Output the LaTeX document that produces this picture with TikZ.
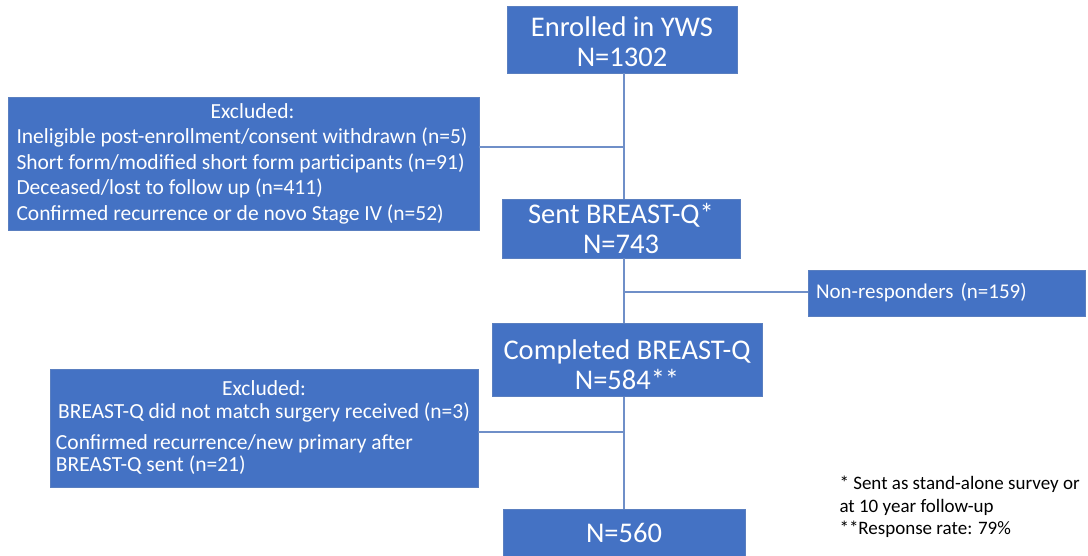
\documentclass[tikz,border=0pt]{standalone}
\usepackage{fontspec}
\setmainfont{Carlito}
\definecolor{boxblue}{HTML}{4472C4}
\definecolor{edgeblue}{HTML}{5A7FC0}
\definecolor{linkblue}{HTML}{6F8FC8}
\begin{document}
\begin{tikzpicture}[x=1pt,y=-1pt,
  flowbox/.style={rectangle,fill=boxblue,draw=edgeblue,line width=0.8pt,text=white,inner sep=0pt,align=center},
  bigtext/.style={font=\fontsize{28.5}{30}\selectfont},
  smalltext/.style={font=\fontsize{21.5}{25.5}\selectfont},
  link/.style={draw=linkblue,line width=1.3pt}]
\useasboundingbox (0,0) rectangle (1088,556);
\fill[white] (0,0) rectangle (1088,556);
\node[flowbox,bigtext,minimum width=230pt,minimum height=67pt] (enrolled) at (622,39.5) {\rule{0pt}{25pt}Enrolled in YWS\\N=1302};
\node[flowbox,smalltext,minimum width=471pt,minimum height=133pt] (excl1) at (243.5,163.5)
  {\begin{minipage}{454pt}\fontsize{21.5}{25.5}\selectfont\centering\hspace*{18pt}Excluded:\par\raggedright
  Ineligible post-enrollment/consent withdrawn (n=5)\par
  Short form/modified short form participants (n=91)\par
  Deceased/lost to follow up (n=411)\par
  Confirmed recurrence or de novo Stage IV (n=52)\par\end{minipage}};
\node[flowbox,bigtext,minimum width=238pt,minimum height=59pt] (sent) at (621,228.5) {Sent BREAST-Q*\\N=743};
\node[flowbox,smalltext,minimum width=277pt,minimum height=46pt,align=left,text width=261pt,font=\fontsize{21}{25}\selectfont] (nonresp) at (946.5,293) {Non-responders (n=159)};
\node[flowbox,bigtext,minimum width=270pt,minimum height=73pt] (completed) at (627,360) {\rule{0pt}{30pt}Completed BREAST-Q\\N=584**};
\node[flowbox,smalltext,minimum width=428pt,minimum height=118pt] (excl2) at (264,428)
  {\begin{minipage}{416pt}\fontsize{21.5}{23}\selectfont\centering Excluded:\par
  BREAST-Q did not match surgery received (n=3)\par\vspace{9pt}\raggedright
  \fontsize{21.5}{22}\selectfont Confirmed recurrence/new primary after\par
  BREAST-Q sent (n=21)\par\end{minipage}};
\node[flowbox,bigtext,minimum width=242pt,minimum height=47pt] (final) at (624,532.5) {N=560};
\node[anchor=west,align=left,font=\fontsize{19}{22.5}\selectfont] (note) at (836,507)
  {* Sent as stand-alone survey or\\at 10 year follow-up\\**Response rate: 79\%};
\coordinate (j1) at (624,147);
\coordinate (j2) at (624,292);
\coordinate (j3) at (624,432);
\draw[link] (enrolled.south -| j1) -- (sent.north -| j1);
\draw[link] (sent.south -| j1) -- (completed.north -| j1);
\draw[link] (completed.south -| j1) -- (final.north -| j1);
\draw[link] (j1) -- (j1 -| excl1.east);
\draw[link] (j2) -- (j2 -| nonresp.west);
\draw[link] (j3) -- (j3 -| excl2.east);
\end{tikzpicture}
\end{document}
